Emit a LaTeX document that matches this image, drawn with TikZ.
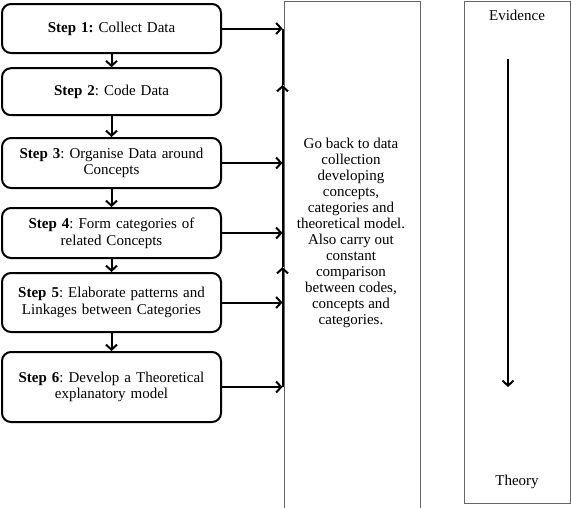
\documentclass[tikz,border=0pt]{standalone}
\usepackage{fontspec}
\setmainfont{Liberation Serif}
\usetikzlibrary{arrows.meta}
\frenchspacing

\begin{document}
\begin{tikzpicture}[x=1pt,y=-1pt,
	stepbox/.style={draw, line width=2pt, rounded corners=9pt, minimum width=219pt,
		text width=210pt, align=center, inner sep=2pt, font=\fontsize{15}{16.7}\selectfont},
	panel/.style={draw=black!60, line width=1pt, anchor=north west},
	flow/.style={-{Straight Barb[length=5pt,width=11pt]}, line width=2pt}]
	% frame of the page
	\useasboundingbox (0,0) rectangle (571,507);
	
	% the six steps
	\node[stepbox, minimum height=49pt] (s1) at (111.5,28.5) {\textbf{Step 1:} Collect Data};
	\node[stepbox, minimum height=47pt] (s2) at (111.5,91.7) {\textbf{Step 2}: Code Data};
	\node[stepbox, minimum height=50pt] (s3) at (111.5,163) {\textbf{Step 3}: Organise Data around\\Concepts};
	\node[stepbox, minimum height=50pt] (s4) at (111.5,233) {\textbf{Step 4}: Form categories of\\related Concepts};
	\node[stepbox, minimum height=59pt] (s5) at (111.5,302.5) {\textbf{Step 5}: Elaborate patterns and\\Linkages between Categories};
	\node[stepbox, minimum height=70pt] (s6) at (111.5,387) {\textbf{Step 6}: Develop a Theoretical\\explanatory model};
	
	% middle panel
	\node[panel, minimum width=136pt, minimum height=510pt] (back) at (283.5,1) {};
	\node[align=center, font=\fontsize{15}{16}\selectfont] (backtext) at (351,233)
		{Go back to data\\collection\\developing\\concepts,\\categories and\\theoretical model.\\Also carry out\\constant\\comparison\\between codes,\\concepts and\\categories.};
	
	% right panel
	\node[panel, minimum width=106pt, minimum height=502pt] (scale) at (464,1) {};
	\node[font=\fontsize{15}{16}\selectfont] (evidence) at (517,15) {Evidence};
	\node[font=\fontsize{15}{16}\selectfont] (theory) at (517,482) {Theory};
	\coordinate (top) at (508,59);
	\coordinate (bottom) at (508,387);
	\draw[flow] (top) -- (bottom);
	
	% arrows down the steps
	\foreach \a/\b in {s1/s2, s2/s3, s3/s4, s4/s5, s5/s6}
		\draw[flow] (\a.south) -- (\b.north);
	
	% arrows into the loop line
	\foreach \s in {s1, s3, s4, s5, s6}
		\draw[flow] (\s.east) -- ([xshift=-1pt]\s.east -| back.west);
	
	% the loop line going back up
	\coordinate (j1) at ([xshift=-1pt]s1.east -| back.west);
	\coordinate (j6) at ([xshift=-1pt]s6.east -| back.west);
	\coordinate (up1) at ([xshift=-1pt]back.west |- 0,85);
	\coordinate (up2) at ([xshift=-1pt]back.west |- 0,267);
	\draw[flow] (j6) -- (up2);
	\draw[flow] (up2) -- (up1);
	\draw[line width=2pt] (up1) -- (j1);
\end{tikzpicture}
\end{document}
